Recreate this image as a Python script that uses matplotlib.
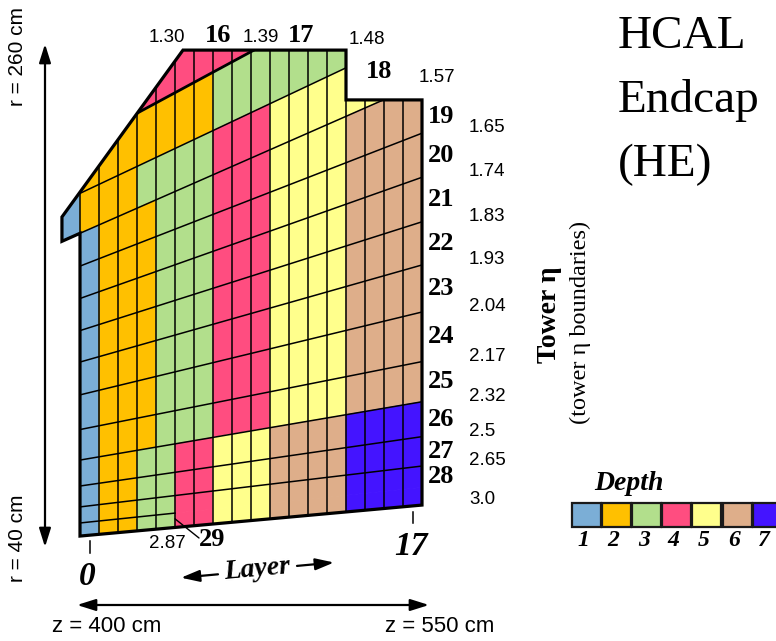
import matplotlib
matplotlib.use('Agg')
import matplotlib.pyplot as plt
from matplotlib.patches import Polygon, Rectangle
import numpy as np

# tower eta boundaries, with the r (cm) of each boundary line at the
# front face (layer 0) and at the back face (behind layer 17)
eta_edges = ['1.30', '1.39', '1.48', '1.57', '1.65', '1.74', '1.83', '1.93',
             '2.04', '2.17', '2.32', '2.5', '2.65', '2.87', '3.0']
r_front = [228.8, 214.7, 193.2, 175.8, 161.5, 147.4, 133.4, 119.7,
           105.4, 90.3, 77.0, 65.7, 56.6, 49.6, 43.9]
r_back = [317.7, 295.1, 263.5, 241.3, 219.4, 200.2, 180.8, 162.0,
          141.5, 119.9, 102.4, 87.2, 74.4, 65.1, 57.4]
towers = list(range(16, 30))

# readout depth of layers -1..17 in every tower (0 = no scintillator)
tower_depths = [
    '4444444444444444444',  # 16
    '2222222233333333333',  # 17
    '1222333344455555555',  # 18
    '0122233344455556666',  # 19
    '0122233344455556666',  # 20
    '0122233344455556666',  # 21
    '0122233344455556666',  # 22
    '0122233344455556666',  # 23
    '0122233344455556666',  # 24
    '0122233344455556666',  # 25
    '0122334455566667777',  # 26
    '0122334455566667777',  # 27
    '0122334455566667777',  # 28
    '0122334455566667777',  # 29
]

# outline of the endcap in (layer, r) units
outline_layer = [-0.95, 5.42, 14, 14, 18, 18, 0, 0, -0.95]
outline_r = [182.9, 255.6, 255.6, 233.9, 233.9, 57.4, 43.9, 175.8, 172.3]

n_layers = 18
layer_ticks = [0, 17]
depth_labels = ['1', '2', '3', '4', '5', '6', '7']
depth_colors = ['#7BAED6', '#FFC000', '#B2DF8C', '#FF4D80',
                '#FFFF8C', '#DEAE8A', '#4414FF']

SERIF = 'Liberation Serif'
SANS = 'Liberation Sans'
W, H = 776, 641


def fpos(x, y):
    """pixel position (from top-left) -> figure fraction"""
    return x / W, 1 - y / H


def line_r(k, x):
    return r_front[k] + (r_back[k] - r_front[k]) * np.asarray(x) / n_layers


fig = plt.figure(figsize=(W / 100, H / 100), dpi=100)
ax = fig.add_axes([0, 0, 1, 1])
ax.set_xlim(-80 / 19, 696 / 19)
ax.set_ylim(260 - 601 / 2.2955, 260 + 40 / 2.2955)
ax.axis('off')

outline = Polygon(np.column_stack([outline_layer, outline_r]), closed=True,
                  fill=False, ec='black', lw=2.3, zorder=5, joinstyle='miter')
ax.add_patch(outline)

# cells, grouped into runs of equal depth within a tower
for k, depths in enumerate(tower_depths):
    j = 0
    while j < len(depths):
        j2 = j
        while j2 < len(depths) and depths[j2] == depths[j]:
            j2 += 1
        d = int(depths[j])
        if d > 0:
            x0, x1 = j - 1, j2 - 1
            pts = [(x0, line_r(k, x0)), (x1, line_r(k, x1)),
                   (x1, line_r(k + 1, x1)), (x0, line_r(k + 1, x0))]
            cell = Polygon(pts, closed=True, fc=depth_colors[d - 1],
                           ec=depth_colors[d - 1], lw=0.6, zorder=1)
            ax.add_patch(cell)
            cell.set_clip_path(outline)
        j = j2

# tower boundary lines
for k in range(1, len(eta_edges) - 1):
    xs = np.array([-1, n_layers]) if eta_edges[k] != '2.87' else np.array([0, 5])
    ln, = ax.plot(xs, line_r(k, xs), color='black',
                  lw=2.0 if k == 1 else 1.1, zorder=3)
    ln.set_clip_path(outline)

# layer lines
for x in range(-1, n_layers + 1):
    ln, = ax.plot([x, x], [0, 300], color='black', lw=1.1, zorder=3)
    ln.set_clip_path(outline)

# tower numbers and eta values on the back face
back_top = max(r for l, r in zip(outline_layer, outline_r) if l == n_layers)
for k in range(4, 14):
    up = min(r_back[k - 1], back_top)
    ax.text(n_layers + 0.33, (up + r_back[k]) / 2, str(towers[k - 1]),
            family=SERIF, weight='bold', fontsize=19, ha='left', va='center')
for k in list(range(4, 13)) + [14]:
    ax.annotate(eta_edges[k], xy=(20.47, r_back[k]), xytext=(0, 4),
                textcoords='offset points', family=SANS, fontsize=13.5,
                ha='left', va='center')

# labels along the top
top_labels = [('1.30', 167, 37, False), ('16', 218, 36, True),
              ('1.39', 261, 38, False), ('17', 301, 35, True),
              ('1.48', 367, 39, False), ('18', 379, 71, True),
              ('1.57', 437, 77, False)]
for s, px, py, bold in top_labels:
    fig.text(*fpos(px, py), s, ha='center', va='center',
             family=SERIF if bold else SANS, weight='bold' if bold else 'normal',
             fontsize=19 if bold else 13.5)

# tower 29 and its lower edge
fig.text(*fpos(167, 543), eta_edges[13], family=SANS, fontsize=13.5,
         ha='center', va='center')
fig.text(*fpos(212, 540), str(towers[-1]), family=SERIF, weight='bold',
         fontsize=19, ha='center', va='center')
ax.annotate('', xy=(5.0, line_r(13, 5.0) - 2.5), xytext=(199, H - 538),
            textcoords='figure pixels',
            arrowprops=dict(arrowstyle='-', lw=1.0, color='black',
                            shrinkA=0, shrinkB=0))

# layer ticks
for lt in layer_ticks:
    xc = lt + 0.5
    rb = line_r(len(eta_edges) - 1, xc)
    ax.plot([xc, xc], [rb - 2.6, rb - 7.6], color='black', lw=1.1)
    ax.annotate(str(lt), xy=(xc - 0.1, rb - 7.6), xytext=(0, -17),
                textcoords='offset points', family=SERIF, weight='bold',
                style='italic', fontsize=24, ha='center', va='center')

# "<- Layer ->"
slope = np.degrees(np.arctan(31 / 342))
fig.text(*fpos(257, 570), 'Layer', family=SERIF, weight='bold', style='italic',
         fontsize=20, rotation=slope, ha='center', va='center',
         rotation_mode='anchor')
arrow_kw = dict(arrowstyle='-|>,head_length=0.7,head_width=0.22', lw=1.6,
                color='black', mutation_scale=16, shrinkA=0, shrinkB=0)
ax.annotate('', xy=fpos(181, 577.7), xytext=fpos(218, 574.3),
            xycoords='figure fraction', arrowprops=arrow_kw)
ax.annotate('', xy=fpos(334, 562.5), xytext=fpos(297, 565.9),
            xycoords='figure fraction', arrowprops=arrow_kw)

# r and z extents
both_kw = dict(arrowstyle='<|-|>,head_length=0.7,head_width=0.22', lw=1.6,
               color='black', mutation_scale=16, shrinkA=0, shrinkB=0)
ax.annotate('', xy=fpos(45, 44), xytext=fpos(45, 547),
            xycoords='figure fraction', arrowprops=both_kw)
ax.annotate('', xy=fpos(77, 605), xytext=fpos(429, 605),
            xycoords='figure fraction', arrowprops=both_kw)
fig.text(*fpos(18, 56), 'r = 260 cm', family=SANS, fontsize=15, rotation=90,
         ha='center', va='center')
fig.text(*fpos(18, 538), 'r = 40 cm', family=SANS, fontsize=15, rotation=90,
         ha='center', va='center')
fig.text(*fpos(107, 627), 'z = 400 cm', family=SANS, fontsize=16, ha='center', va='center')
fig.text(*fpos(440, 627), 'z = 550 cm', family=SANS, fontsize=16, ha='center', va='center')

# title
for s, py in [('HCAL', 48), ('Endcap', 112), ('(HE)', 176)]:
    fig.text(*fpos(618, py), s, family=SERIF, fontsize=34, ha='left', va='baseline')

fig.text(*fpos(550, 315), 'Tower η', family=SERIF, weight='bold', fontsize=20,
         rotation=90, ha='center', va='center')
fig.text(*fpos(580, 322), '(tower η boundaries)', family=SERIF, fontsize=17.5,
         rotation=90, ha='center', va='center')

# depth legend
fig.text(*fpos(629, 483), 'Depth', family=SERIF, weight='bold', style='italic',
         fontsize=20, ha='center', va='center')
for i, (lab, col) in enumerate(zip(depth_labels, depth_colors)):
    x0 = 572 + 30.1 * i
    fig.add_artist(Rectangle(fpos(x0, 527), 29 / W, 24 / H, transform=fig.transFigure,
                             fc=col, ec='#1a1a1a', lw=1.6))
    fig.text(*fpos(x0 + 11.5, 541), lab, family=SERIF, weight='bold', style='italic',
             fontsize=17, ha='center', va='center')

fig.savefig('out.png', dpi=100)
